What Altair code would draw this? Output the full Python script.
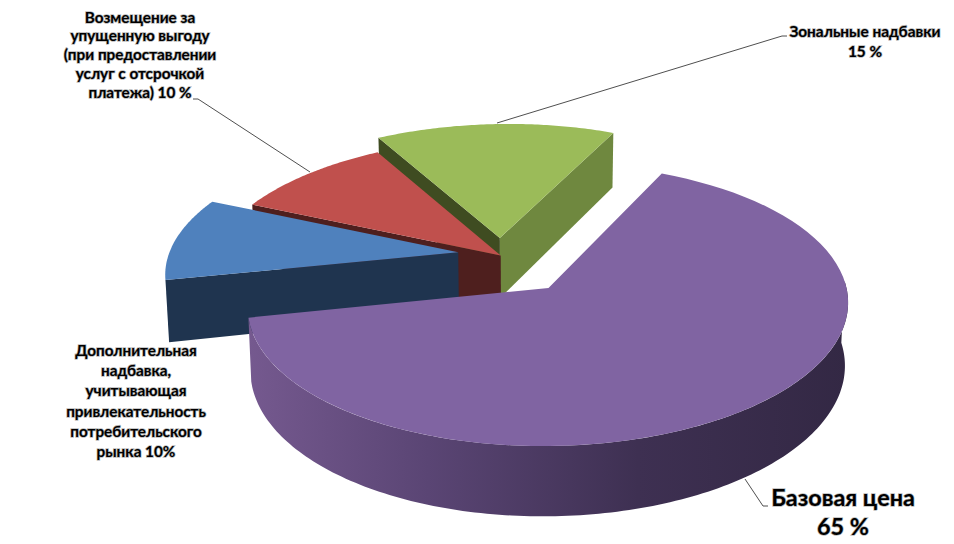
import math
import altair as alt
import pandas as pd

# ---- data
CATEGORIES = ["Базовая цена", "Дополнительная надбавка", "Возмещение за упущенную выгоду", "Зональные надбавки"]
SHARES = [65, 10, 10, 15]
LABEL_LINES = [
    ["Базовая цена", "65 %"],
    ["Дополнительная", "надбавка,", "учитывающая", "привлекательность", "потребительского", "рынка 10%"],
    ["Возмещение за", "упущенную выгоду", "(при предоставлении", "услуг с отсрочкой", "платежа) 10 %"],
    ["Зональные надбавки", "15 %"],
]
# ---- styles and layout
TOP_COLORS = ["#8064A2", "#4F81BD", "#C0504D", "#9BBB59"]
CUT_COLORS = ["#3A2D4C", "#1F344F", "#4E1F1E", "#3F4C21"]
GREEN_RIGHT_WALL = "#6F883F"
EXPLODE = [(0.005, 0.0), (-0.312, 0.265), (-0.164, 0.24), (-0.172, 0.376)]
START_ANGLE = 66.0
LABEL_X = [843, 136, 140, 865]
LABEL_Y0 = [499, 351, 17.5, 32]
LABEL_STEP = [29, 20.2, 18.8, 20]
LABEL_SIZE = [23.4, 15.3, 15.3, 15.4]
LEADERS = [
    [(745, 479), (763, 506), (768, 506)],
    [(310, 172), (198, 99), (193, 99)],
    [(497, 123), (782, 36), (787, 36)],
]
FONT = "Lato"

W, H = 938, 532
xs = alt.Scale(domain=[8, 8 + W], range=[0, W], nice=False, zero=False)
ys = alt.Scale(domain=[8, 8 + H], range=[0, H], nice=False, zero=False)


def project(u, v):
    d = 1 + 0.1206 * v
    return 590 + (-43 + 298 * u) / d, 288 - 139 * v / d


def drop(p):
    x, y = p
    return 530 + (x - 530) * 0.99, y + 48 + 0.05 * y


# slice angles from the shares (clockwise from the start angle)
angles = []
a = START_ANGLE
for s in SHARES:
    b = a - s * 3.6
    angles.append((a, b))
    a = b


def rim(i, a0, a1, n=80):
    ex, ey = EXPLODE[i]
    return [
        project(ex + math.cos(math.radians(a0 + (a1 - a0) * k / n)),
                ey + math.sin(math.radians(a0 + (a1 - a0) * k / n)))
        for k in range(n + 1)
    ]


def apex(i):
    return project(*EXPLODE[i])


def face(points, fill):
    df = pd.DataFrame({"px": [p[0] for p in points], "py": [p[1] for p in points], "i": range(len(points))})
    return (
        alt.Chart(df)
        .mark_line(fill=fill, stroke="transparent", interpolate="linear")
        .encode(
            x=alt.X("px:Q", scale=xs, axis=None),
            y=alt.Y("py:Q", scale=ys, axis=None),
            order=alt.Order("i:Q"),
        )
    )


def cut_wall(i, ang):
    e = rim(i, ang, ang, 1)[0]
    o = apex(i)
    return [o, e, drop(e), drop(o)]


def top(i):
    a0, a1 = angles[i]
    return [apex(i)] + rim(i, a0, a1)


layers = []
# green slice
g0, g1 = angles[3]
layers.append(face(cut_wall(3, g1), GREEN_RIGHT_WALL))
layers.append(face(cut_wall(3, g0), CUT_COLORS[3]))
layers.append(face(top(3), TOP_COLORS[3]))
# red slice
r0, r1 = angles[2]
layers.append(face(cut_wall(2, r0), CUT_COLORS[2]))
layers.append(face(top(2), TOP_COLORS[2]))
# blue slice
b0, b1 = angles[1]
layers.append(face(cut_wall(1, b0), CUT_COLORS[1]))
layers.append(face(top(1), TOP_COLORS[1]))
# purple slice, outer wall with gradient
p0, p1 = angles[0]
arc = rim(0, p1, 3, 160)
wall = arc + [drop(p) for p in reversed(arc)]
gradient = alt.Gradient(
    gradient="linear", x1=0, x2=1, y1=0, y2=0,
    stops=[
        alt.GradientStop(color="#75598F", offset=0),
        alt.GradientStop(color="#5A4574", offset=0.3),
        alt.GradientStop(color="#3E3052", offset=0.65),
        alt.GradientStop(color="#332844", offset=1),
    ],
)
layers.append(face(wall, gradient))
layers.append(face(top(0), TOP_COLORS[0]))

# leader lines
for leader in LEADERS:
    df = pd.DataFrame({"px": [p[0] for p in leader], "py": [p[1] for p in leader], "i": range(len(leader))})
    layers.append(
        alt.Chart(df).mark_line(color="#222222", strokeWidth=0.8).encode(
            x=alt.X("px:Q", scale=xs, axis=None),
            y=alt.Y("py:Q", scale=ys, axis=None),
            order=alt.Order("i:Q"),
        )
    )

# labels: a translucent outline stands in for the soft text shadow
rows = []
for lines, lx, ly, st, sz in zip(LABEL_LINES, LABEL_X, LABEL_Y0, LABEL_STEP, LABEL_SIZE):
    for k, t in enumerate(lines):
        rows.append({"t": t, "px": lx, "py": ly + k * st, "sz": sz})
labels = pd.DataFrame(rows)
layers.append(
    alt.Chart(labels).mark_text(font=FONT, fontWeight="bold", align="center", baseline="middle",
                                color="#000000", stroke="#000000", strokeOpacity=0.3, strokeWidth=1.6).encode(
        x=alt.X("px:Q", scale=xs, axis=None),
        y=alt.Y("py:Q", scale=ys, axis=None),
        text="t:N",
        size=alt.Size("sz:Q", scale=None, legend=None),
    )
)

chart = (
    alt.layer(*layers)
    .properties(width=W, height=H, padding=0, autosize=alt.AutoSizeParams(type="none"))
    .configure_view(stroke=None)
)
chart.save("out.html", embed_options={"renderer": "svg", "actions": False})
